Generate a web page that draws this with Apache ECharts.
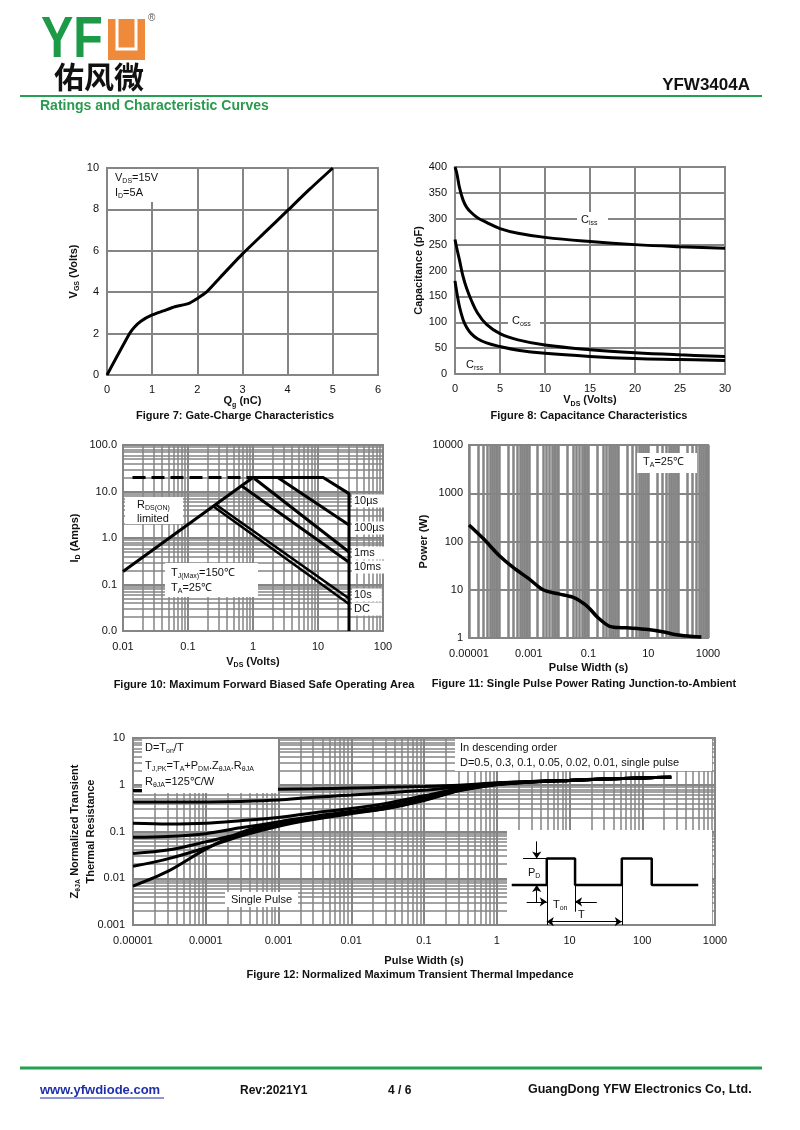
<!DOCTYPE html>
<html><head><meta charset="utf-8">
<script src="https://cdn.jsdelivr.net/npm/echarts@6/dist/echarts.min.js"></script>
<style>html,body{margin:0;padding:0;background:#fff}#c{width:800px;height:1130px}</style>
</head><body><div id="c"></div><script>
// ---------------- DATA ----------------
// Figure 7: Gate charge
const fig7Qg  = [0, 0.5, 0.6, 0.75, 1.0, 1.25, 1.5, 1.8, 2.0, 2.2, 2.5, 3.0, 3.5, 4.0, 4.5, 5.0];
const fig7Vgs = [0, 2.0, 2.3, 2.6, 2.9, 3.1, 3.3, 3.45, 3.7, 4.0, 4.7, 5.85, 6.9, 7.95, 9.0, 10.0];
// Figure 8: Capacitance
const fig8Vds  = [0, 0.2, 0.5, 0.9, 1.3, 1.8, 2.5, 3.5, 5, 7, 10, 15, 20, 25, 30];
const fig8Ciss = [400, 388, 360, 336, 322, 312, 302, 293, 281, 272, 264, 256, 250, 246, 243];
const fig8Coss = [260, 243, 220, 188, 165, 143, 118, 96, 78, 66, 56, 47, 41, 37, 34];
const fig8Crss = [180, 158, 130, 105, 90, 78, 68, 60, 53, 46, 40, 34, 30, 28, 26];
// Figure 10: Safe operating area (V, A)
const fig10RdsV  = [0.01, 1.0];        const fig10RdsI  = [0.19, 20];
const fig10DashV = [0.014, 1.0];       const fig10DashI = [20, 20];
const fig10Us10V = [1.0, 12, 30, 30];  const fig10Us10I = [20, 20, 9, 0.01];
const fig10Us100V = [2.4, 30];         const fig10Us100I = [20, 1.9];
const fig10Ms1V  = [1.05, 30];         const fig10Ms1I  = [19, 0.5];
const fig10Ms10V = [0.68, 30];         const fig10Ms10I = [13, 0.3];
const fig10S10V  = [0.27, 30];         const fig10S10I  = [5.2, 0.05];
const fig10DcV   = [0.25, 30];         const fig10DcI   = [4.7, 0.038];
const fig10XLabels = ['0.01', '0.1', '1', '10', '100'];
const fig10YLabels = ['0.0', '0.1', '1.0', '10.0', '100.0'];
// Figure 11: Single pulse power
const fig11Width = [1e-5, 3e-5, 1e-4, 3e-4, 1e-3, 3e-3, 1e-2, 3e-2, 0.06, 0.1, 0.2, 0.5, 1, 3, 10, 30, 100, 300, 600];
const fig11Power = [220, 115, 52, 29, 17, 10, 8.2, 7.0, 5.5, 4.3, 2.7, 1.75, 1.65, 1.6, 1.5, 1.35, 1.15, 1.07, 1.05];
const fig11XLabels = ['0.00001', '', '0.001', '', '0.1', '', '10', '', '1000'];
const fig11YLabels = ['1', '10', '100', '1000', '10000'];
// Figure 12: Transient thermal impedance
const fig12Width  = [1e-5, 3e-5, 1e-4, 3e-4, 1e-3, 3e-3, 1e-2, 3e-2, 0.1, 0.3, 1, 3, 10, 30, 100, 250];
const fig12D05    = [0.75, 0.76, 0.77, 0.78, 0.80, 0.82, 0.85, 0.88, 0.92, 0.98, 1.10, 1.18, 1.25, 1.33, 1.40, 1.45];
const fig12D03    = [0.43, 0.43, 0.43, 0.44, 0.47, 0.54, 0.60, 0.67, 0.76, 0.90, 1.08, 1.17, 1.25, 1.33, 1.40, 1.45];
const fig12D01    = [0.15, 0.145, 0.15, 0.17, 0.20, 0.25, 0.31, 0.40, 0.58, 0.82, 1.05, 1.16, 1.24, 1.32, 1.40, 1.45];
const fig12D005   = [0.075, 0.078, 0.09, 0.12, 0.16, 0.21, 0.27, 0.35, 0.52, 0.78, 1.03, 1.15, 1.24, 1.32, 1.40, 1.45];
const fig12D002   = [0.034, 0.040, 0.06, 0.09, 0.14, 0.19, 0.25, 0.32, 0.48, 0.76, 1.02, 1.15, 1.24, 1.32, 1.40, 1.45];
const fig12D001   = [0.018, 0.026, 0.045, 0.08, 0.13, 0.18, 0.24, 0.31, 0.47, 0.75, 1.01, 1.15, 1.24, 1.32, 1.40, 1.45];
const fig12Single = [0.0068, 0.014, 0.042, 0.095, 0.16, 0.20, 0.25, 0.31, 0.46, 0.74, 1.00, 1.15, 1.24, 1.32, 1.40, 1.45];
const fig12XLabels = ['0.00001', '0.0001', '0.001', '0.01', '0.1', '1', '10', '100', '1000'];
const fig12YLabels = ['0.001', '0.01', '0.1', '1', '10'];
// Figure 12 inset: pulse waveform (schematic units 0..100)
const pulseT = [2.3, 19.4, 19.4, 33.2, 33.2, 56, 56, 70.6, 70.6, 93.3];
const pulseP = [42, 42, 70, 70, 42, 42, 70, 70, 42, 42];
// log grid minor multipliers
const MINOR_MULT = [2, 3, 4, 5, 6, 7, 8, 9];

// ---------------- HELPERS ----------------
const FONT = '"Liberation Sans", Arial, sans-serif';
const GRAY = '#858585';
const zip = (a, b) => a.map((v, i) => [v, b[i]]);
function minorValues(minExp, maxExp) {
  const out = [];
  for (let e = minExp; e < maxExp; e++) for (const m of MINOR_MULT) out.push(m * Math.pow(10, e));
  return out;
}
// zrender-style rich (graphic texts)
function richSet(size, bold) {
  const f = bold ? 'bold ' : '';
  return {
    n: { font: f + size + 'px ' + FONT, fill: '#111' },
    s: { font: f + Math.round(size * 0.68) + 'px ' + FONT, fill: '#111', padding: [Math.round(size * 0.6), 0, 0, 0] }
  };
}
// echarts-style rich (axis names)
function nameRich(size) {
  return {
    n: { fontSize: size, fontWeight: 'bold', fontFamily: FONT, color: '#111' },
    s: { fontSize: Math.round(size * 0.68), fontWeight: 'bold', fontFamily: FONT, color: '#111', padding: [Math.round(size * 0.6), 0, 0, 0] }
  };
}
function valAxis(gi, min, max, interval, o) {
  return {
    type: 'value', gridIndex: gi, min, max, interval,
    axisLine: { show: true, lineStyle: { color: GRAY, width: 2 } }, axisTick: { show: false },
    splitLine: { show: true, lineStyle: { color: GRAY, width: 2 } },
    axisLabel: { color: '#111', fontSize: 11, fontFamily: FONT, margin: o.margin || 8 },
    name: o.name, nameLocation: 'middle', nameGap: o.gap, nameRotate: o.rot || 0,
    nameTextStyle: { rich: nameRich(11) }
  };
}
function logAxis(gi, min, max, labels, o) {
  const minExp = Math.round(Math.log10(min));
  const ax = {
    type: 'log', logBase: 10, gridIndex: gi, min, max, splitNumber: Math.round(Math.log10(max / min)),
    axisLine: { show: true, lineStyle: { color: GRAY, width: 2 } }, axisTick: { show: false },
    splitLine: { show: o.split !== false, lineStyle: { color: GRAY, width: o.splitW || 2 } },
    axisLabel: { color: '#111', fontSize: 11, fontFamily: FONT, margin: o.margin || 8,
      formatter: v => labels[Math.round(Math.log10(v)) - minExp] },
    name: o.name, nameLocation: 'middle', nameGap: o.gap, nameRotate: o.rot || 0,
    nameTextStyle: { rich: nameRich(11), lineHeight: 16 }
  };
  if (o.noMove) ax.nameMoveOverlap = false;
  return ax;
}
function minorGrid(gi, xVals, yVals, width) {
  return {
    type: 'line', xAxisIndex: gi, yAxisIndex: gi, data: [], silent: true, z: 1,
    markLine: { silent: true, z: 1, precision: 12, symbol: ['none', 'none'], label: { show: false }, animation: false,
      lineStyle: { color: GRAY, width: width, type: 'solid' },
      emphasis: { disabled: true },
      data: [...xVals.map(v => ({ xAxis: v })), ...yVals.map(v => ({ yAxis: v }))] }
  };
}
function curve(gi, data, o = {}) {
  return { type: 'line', xAxisIndex: gi, yAxisIndex: gi, data, symbol: 'none', smooth: o.smooth || 0, z: 3,
    lineStyle: { color: '#000', width: o.width || 3, type: o.type || 'solid', cap: 'butt' }, silent: true };
}
function T(x, y, text, o = {}) {
  const st = { text, fill: o.color || '#111', font: (o.bold ? 'bold ' : '') + (o.size || 11) + 'px ' + (o.family || FONT),
    align: o.align || 'left', verticalAlign: 'middle' };
  if (o.rich) st.rich = o.rich;
  if (o.bg) { st.backgroundColor = o.bg; st.padding = o.pad || [1, 2]; }
  return { type: 'text', x, y, z: o.z || 20, silent: true, scaleX: o.sx || 1, style: st };
}
function R(x, y, w, h, fill, z) {
  return { type: 'rect', shape: { x, y, width: w, height: h }, style: { fill: fill || '#fff' }, z: z || 15, silent: true };
}
function L(x1, y1, x2, y2, color, w) {
  return { type: 'line', shape: { x1, y1, x2, y2 }, style: { stroke: color, lineWidth: w }, z: 20, silent: true };
}
const R11 = richSet(11, false);
const GREEN = '#24a052';

// ---------------- GRAPHICS (page furniture, annotation boxes) ----------------
const graphics = [
  // header logo
  T(41, 41, 'YF', { size: 57, bold: true, color: '#1d9a48', sx: 0.85 }),
  R(108, 19, 37, 41, '#ef8a3a', 20),
  { type: 'polyline', shape: { points: [[117, 19], [117, 49], [136, 49], [136, 19]] }, style: { stroke: '#fff', lineWidth: 3, fill: null }, z: 21, silent: true },
  T(148, 18, '®', { size: 10, color: '#555' }),
  T(54, 77, '佑风微', { size: 30, bold: true, family: '"Noto Sans CJK SC"', color: '#111' }),
  T(750, 85, 'YFW3404A', { size: 17, bold: true, align: 'right' }),
  L(20, 96, 762, 96, GREEN, 2),
  T(40, 106, 'Ratings and Characteristic Curves', { size: 14, bold: true, color: '#2a9a4e' }),
  // footer
  L(20, 1068, 762, 1068, GREEN, 3),
  T(40, 1090, 'www.yfwdiode.com', { size: 13, bold: true, color: '#1f2fa8' }),
  L(40, 1098, 164, 1098, '#1f2fa8', 1),
  T(240, 1091, 'Rev:2021Y1', { size: 12, bold: true }),
  T(388, 1091, '4 / 6', { size: 12, bold: true }),
  T(528, 1090, 'GuangDong YFW Electronics Co, Ltd.', { size: 12.5, bold: true }),
  // figure titles
  T(235, 416, 'Figure 7: Gate-Charge Characteristics', { bold: true, align: 'center' }),
  T(589, 416, 'Figure 8: Capacitance Characteristics', { bold: true, align: 'center' }),
  T(264, 685, 'Figure 10: Maximum Forward Biased Safe Operating Area', { bold: true, align: 'center' }),
  T(584, 684, 'Figure 11: Single Pulse Power Rating Junction-to-Ambient', { bold: true, align: 'center' }),
  T(410, 975, 'Figure 12: Normalized Maximum Transient Thermal Impedance', { bold: true, align: 'center' }),
  // fig 7 annotation
  R(108, 169, 50, 33),
  T(115, 178, '{n|V}{s|DS}{n|=15V}', { rich: R11 }),
  T(115, 193, '{n|I}{s|D}{n|=5A}', { rich: R11 }),
  // fig 8 labels
  R(577, 212, 31, 16), T(581, 220, '{n|C}{s|iss}', { rich: R11 }),
  R(508, 313, 32, 16), T(512, 321, '{n|C}{s|oss}', { rich: R11 }),
  T(466, 365, '{n|C}{s|rss}', { rich: R11 }),
  // fig 10 labels
  R(125, 497, 58, 27), T(137, 505, '{n|R}{s|DS(ON)}', { rich: R11 }), T(137, 519, 'limited'),
  R(165, 563, 93, 34), T(171, 573, '{n|T}{s|J(Max)}{n|=150℃}', { rich: R11 }), T(171, 588, '{n|T}{s|A}{n|=25℃}', { rich: R11 }),
  T(352, 501, '10µs', { bg: '#fff', pad: [1, 6, 1, 2] }),
  T(352, 528, '100µs', { bg: '#fff', pad: [1, 2, 1, 2] }),
  T(352, 553, '1ms', { bg: '#fff', pad: [1, 10, 1, 2] }),
  T(352, 567, '10ms', { bg: '#fff', pad: [1, 4, 1, 2] }),
  T(352, 595, '10s', { bg: '#fff', pad: [1, 10, 1, 2] }),
  T(352, 609, 'DC', { bg: '#fff', pad: [1, 12, 1, 2] }),
  // fig 11 label
  R(637, 453, 60, 20), T(643, 462, '{n|T}{s|A}{n|=25℃}', { rich: R11 }),
  // fig 12 boxes
  R(142, 739, 136, 54),
  T(145, 748, '{n|D=T}{s|on}{n|/T}', { rich: R11 }),
  T(145, 766, '{n|T}{s|J,PK}{n|=T}{s|A}{n|+P}{s|DM}{n|.Z}{s|θJA}{n|.R}{s|θJA}', { rich: R11 }),
  T(145, 782, '{n|R}{s|θJA}{n|=125℃/W}', { rich: R11 }),
  R(455, 739, 257, 32),
  T(460, 748, 'In descending order'),
  T(460, 763, 'D=0.5, 0.3, 0.1, 0.05, 0.02, 0.01, single pulse'),
  R(225, 892, 73, 15), T(261.5, 899.5, 'Single Pulse', { align: 'center' }),
  R(507, 830, 205, 94, '#fff', 15),
  T(528, 873, '{n|P}{s|D}', { rich: R11, z: 40 }),
  T(553, 905, '{n|T}{s|on}', { rich: R11, z: 40 }),
  T(578, 915, 'T', { z: 40 })
];

// ---------------- OPTION ----------------
const gridBox = { show: true, borderColor: GRAY, borderWidth: 2, backgroundColor: 'transparent', containLabel: false };
const option = {
  animation: false,
  backgroundColor: '#fff',
  textStyle: { fontFamily: FONT },
  grid: [
    Object.assign({ left: 107, top: 168, width: 271, height: 207 }, gridBox),
    Object.assign({ left: 455, top: 167, width: 270, height: 207 }, gridBox),
    Object.assign({ left: 123, top: 445, width: 260, height: 186 }, gridBox),
    Object.assign({ left: 469, top: 445, width: 239, height: 193 }, gridBox),
    Object.assign({ left: 133, top: 738, width: 582, height: 187 }, gridBox),
    { left: 507, top: 830, width: 205, height: 95, show: false }
  ],
  xAxis: [
    valAxis(0, 0, 6, 1, { name: '{n|Q}{s|g}{n| (nC)}', gap: 18, margin: 9 }),
    valAxis(1, 0, 30, 5, { name: '{n|V}{s|DS}{n| (Volts)}', gap: 19, margin: 9 }),
    logAxis(2, 0.01, 100, fig10XLabels, { name: '{n|V}{s|DS}{n| (Volts)}', gap: 23, margin: 10, splitW: 2 }),
    logAxis(3, 1e-5, 1000, fig11XLabels, { name: '{n|Pulse Width (s)}', gap: 22, margin: 10, splitW: 2.5 }),
    logAxis(4, 1e-5, 1000, fig12XLabels, { name: '{n|Pulse Width (s)}', gap: 28, margin: 10, splitW: 2 }),
    { type: 'value', gridIndex: 5, min: 0, max: 100, show: false }
  ],
  yAxis: [
    valAxis(0, 0, 10, 2, { name: '{n|V}{s|GS}{n| (Volts)}', gap: 26, rot: 90 }),
    valAxis(1, 0, 400, 50, { name: '{n|Capacitance (pF)}', gap: 30, rot: 90 }),
    logAxis(2, 0.01, 100, fig10YLabels, { name: '{n|I}{s|D}{n| (Amps)}', gap: 40, rot: 90, margin: 6 }),
    logAxis(3, 1, 10000, fig11YLabels, { name: '{n|Power (W)}', gap: 37, rot: 90, margin: 6, noMove: true }),
    logAxis(4, 0.001, 10, fig12YLabels, { name: '{n|Z}{s|θJA}{n| Normalized Transient}\n{n|Thermal Resistance}', gap: 34, rot: 90, margin: 8, noMove: true }),
    { type: 'value', gridIndex: 5, min: 0, max: 100, show: false }
  ],
  series: [
    // fig 7
    curve(0, zip(fig7Qg, fig7Vgs), { smooth: 0.2 }),
    // fig 8
    curve(1, zip(fig8Vds, fig8Ciss), { smooth: 0.4 }),
    curve(1, zip(fig8Vds, fig8Coss), { smooth: 0.4 }),
    curve(1, zip(fig8Vds, fig8Crss), { smooth: 0.4 }),
    // fig 10
    minorGrid(2, minorValues(-2, 2), minorValues(-2, 2), 1.5),
    curve(2, zip(fig10RdsV, fig10RdsI)),
    curve(2, zip(fig10DashV, fig10DashI), { type: [13, 6] }),
    curve(2, zip(fig10Us10V, fig10Us10I)),
    curve(2, zip(fig10Us100V, fig10Us100I)),
    curve(2, zip(fig10Ms1V, fig10Ms1I)),
    curve(2, zip(fig10Ms10V, fig10Ms10I)),
    curve(2, zip(fig10S10V, fig10S10I), { width: 2.5 }),
    curve(2, zip(fig10DcV, fig10DcI), { width: 2.5 }),
    // fig 11
    minorGrid(3, minorValues(-5, 3), [], 2.5),
    curve(3, zip(fig11Width, fig11Power), { smooth: 0.3, width: 3.5 }),
    // fig 12
    minorGrid(4, minorValues(-5, 3), minorValues(-3, 1), 1.5),
    curve(4, zip(fig12Width, fig12D05), { smooth: 0.3 }),
    curve(4, zip(fig12Width, fig12D03), { smooth: 0.3 }),
    curve(4, zip(fig12Width, fig12D01), { smooth: 0.3 }),
    curve(4, zip(fig12Width, fig12D005), { smooth: 0.3 }),
    curve(4, zip(fig12Width, fig12D002), { smooth: 0.3 }),
    curve(4, zip(fig12Width, fig12D001), { smooth: 0.3 }),
    curve(4, zip(fig12Width, fig12Single), { smooth: 0.3 }),
    // fig 12 inset pulse diagram
    {
      type: 'line', xAxisIndex: 5, yAxisIndex: 5, data: zip(pulseT, pulseP), symbol: 'none', z: 30, silent: true,
      lineStyle: { color: '#000', width: 2.5 },
      markLine: {
        silent: true, z: 35, animation: false, symbol: ['none', 'arrow'], symbolSize: 7, label: { show: false },
        lineStyle: { color: '#000', width: 1, type: 'solid' }, emphasis: { disabled: true },
        data: [
          [{ coord: [14.5, 88] }, { coord: [14.5, 70] }],
          [{ coord: [14.5, 24] }, { coord: [14.5, 42] }],
          [{ coord: [9.6, 24.4] }, { coord: [19.4, 24.4] }],
          [{ coord: [43.8, 24.4] }, { coord: [33.2, 24.4] }],
          [{ coord: [19.4, 3.5], symbol: 'arrow' }, { coord: [56, 3.5] }],
          [{ coord: [7.8, 70], symbol: 'none' }, { coord: [19.4, 70], symbol: 'none' }],
          [{ coord: [19.4, 70], symbol: 'none' }, { coord: [19.4, 0], symbol: 'none' }],
          [{ coord: [33.2, 42], symbol: 'none' }, { coord: [33.2, 14], symbol: 'none' }],
          [{ coord: [56, 42], symbol: 'none' }, { coord: [56, 0], symbol: 'none' }]
        ]
      }
    }
  ],
  graphic: { elements: graphics }
};
const chart = echarts.init(document.getElementById('c'), null, { renderer: 'canvas', width: 800, height: 1130 });
chart.setOption(option);
</script></body></html>
